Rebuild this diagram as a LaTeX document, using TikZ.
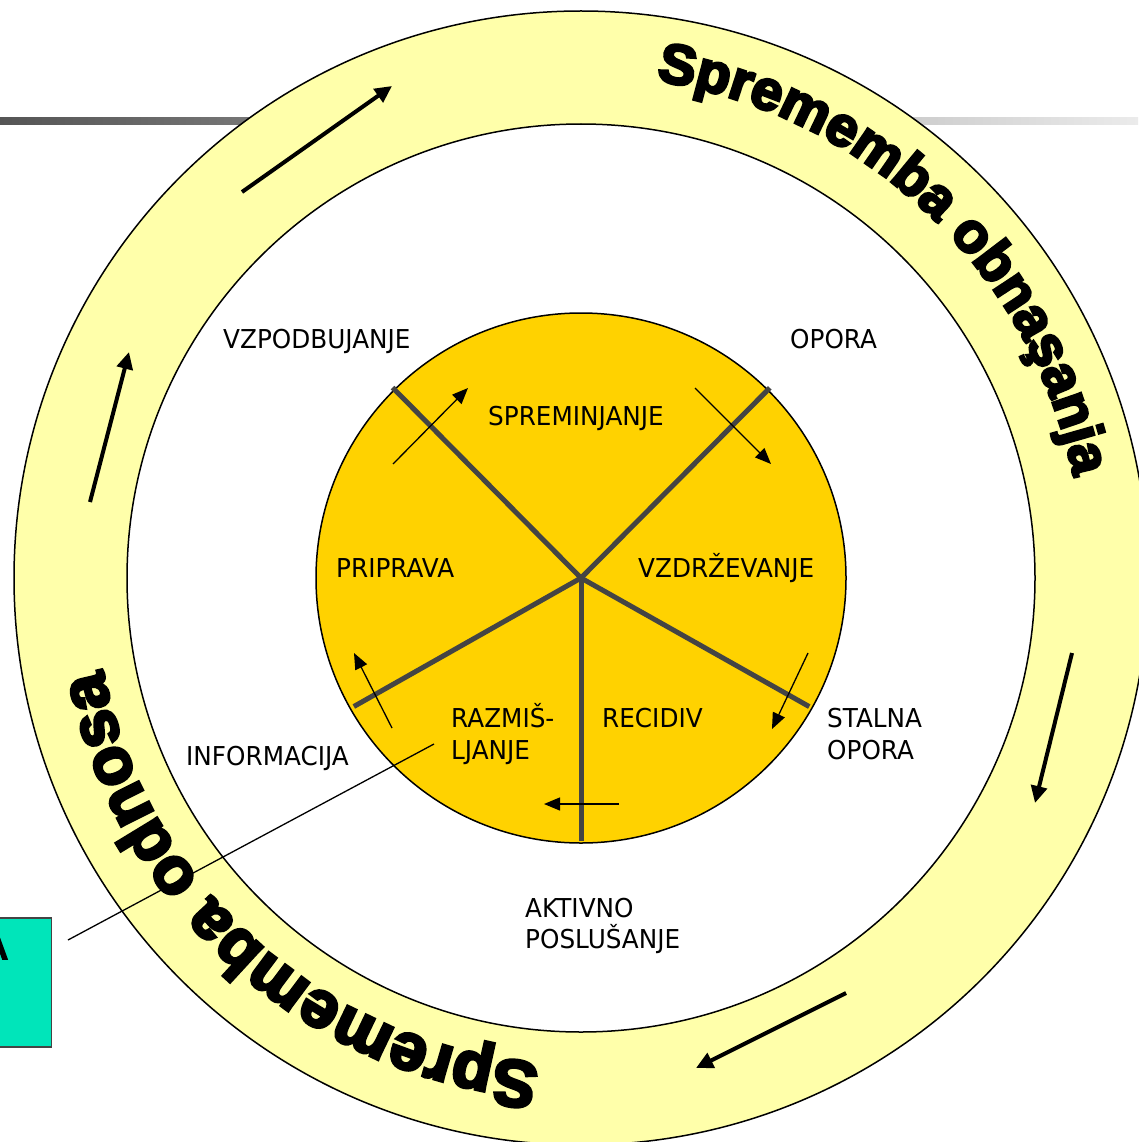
\documentclass[tikz,border=0pt]{standalone}
\usepackage{fontspec}
\setmainfont{DejaVu Sans}[FakeStretch=0.95]
\newfontfamily\wafont{Liberation Sans}[BoldFeatures={FakeBold=5}]
\usetikzlibrary{arrows.meta,decorations.text}
\definecolor{ringyellow}{RGB}{255,255,170}
\definecolor{goldfill}{RGB}{255,210,0}
\definecolor{boxgreen}{RGB}{0,229,186}
\definecolor{spokegray}{RGB}{68,68,68}
\definecolor{barleft}{RGB}{85,85,85}
\definecolor{barright}{RGB}{235,235,235}
\begin{document}
\begin{tikzpicture}[x=1pt,y=1pt,
  lbl/.style={anchor=base west, inner sep=0pt, font=\fontsize{26}{30}\selectfont},
  ringline/.style={draw=black, line width=1.5pt},
  spoke/.style={line width=5pt, draw=spokegray},
  smallarrow/.style={line width=1.3pt, -{Triangle[length=16pt,width=13pt]}},
  bigarrow/.style={line width=4pt, -{Triangle[length=17pt,width=16pt]}},
  curvedtext/.style={decorate, decoration={text along path, text align=center, text={#1}}}]
\useasboundingbox (0,0) rectangle (1138,-1142);
\fill[white] (0,0) rectangle (1138,-1142);
% gradient bar
\shade[left color=barleft, right color=barright] (0,-118) rectangle (1138,-125);
% circles
\coordinate (c) at (581,-578);
\node[circle, ringline, fill=ringyellow, minimum size=1134pt, inner sep=0pt] (outer) at (c) {};
\node[circle, ringline, fill=white, minimum size=908pt, inner sep=0pt] (inner) at (c) {};
\node[circle, ringline, fill=goldfill, minimum size=530pt, inner sep=0pt] (core) at (c) {};
% spokes
\draw[spoke] (c) -- ++(134.7:268pt);
\draw[spoke] (c) -- ++(45.2:268pt);
\draw[spoke] (c) -- ++(209.5:261pt);
\draw[spoke] (c) -- ++(330.6:262pt);
\draw[spoke] (c) -- ++(270:263pt);
% small arrows
\draw[smallarrow] (393,-464) -- (468,-388);
\draw[smallarrow] (695,-388) -- (771,-464);
\draw[smallarrow] (808,-653) -- (772,-729);
\draw[smallarrow] (619,-804) -- (544,-804);
\draw[smallarrow] (392,-728) -- (354,-653);
% big arrows in ring
\draw[bigarrow] (242,-192) -- (392,-86);
\draw[bigarrow] (1072,-653) -- (1035,-803);
\draw[bigarrow] (846,-993) -- (696,-1068);
\draw[bigarrow] (90,-502) -- (129,-352);
% curved texts
\path[curvedtext={|\wafont\bfseries\fontsize{56}{56}\selectfont|Sprememba obnaşanja}]
  (c) ++(110:503pt) arc[start angle=110, end angle=-17, radius=503pt];
\path[curvedtext={|\wafont\bfseries\fontsize{66}{66}\selectfont|Sprememba odnosa}]
  (c) ++(288:487pt) arc[start angle=288, end angle=168, radius=487pt];
% labels
\node[lbl] (vzpod) at (223,-348) {VZPODBUJANJE};
\node[lbl] (opora) at (790,-348) {OPORA};
\node[lbl] (sprem) at (488,-425) {SPREMINJANJE};
\node[lbl] (priprava) at (336,-577) {PRIPRAVA};
\node[lbl] (vzdr) at (638,-577) {VZDRŽEVANJE};
\node[lbl] (razmA) at (451,-727) {RAZMIŠ-};
\node[lbl] (razmB) at (451,-759) {LJANJE};
\node[lbl] (recid) at (602,-727) {RECIDIV};
\node[lbl] (stalA) at (827,-727) {STALNA};
\node[lbl] (stalB) at (827,-759) {OPORA};
\node[lbl] (inform) at (186,-765) {INFORMACIJA};
\node[lbl] (aktA) at (525,-917) {AKTIVNO};
\node[lbl] (aktB) at (525,-948) {POSLUŠANJE};
% green box
\node[draw=spokegray, line width=1.5pt, fill=boxgreen, anchor=north east, minimum width=72pt, minimum height=129pt, inner sep=0pt] (gbox) at (52,-917) {};
\node[anchor=base east, inner sep=0pt, font=\wafont\bfseries\fontsize{30}{30}\selectfont] (gtext) at (8,-959) {A};
% connector
\coordinate (lnA) at (68,-940);
\coordinate (lnB) at (434,-744);
\draw[line width=1.3pt] (lnA) -- (lnB);
\end{tikzpicture}
\end{document}
